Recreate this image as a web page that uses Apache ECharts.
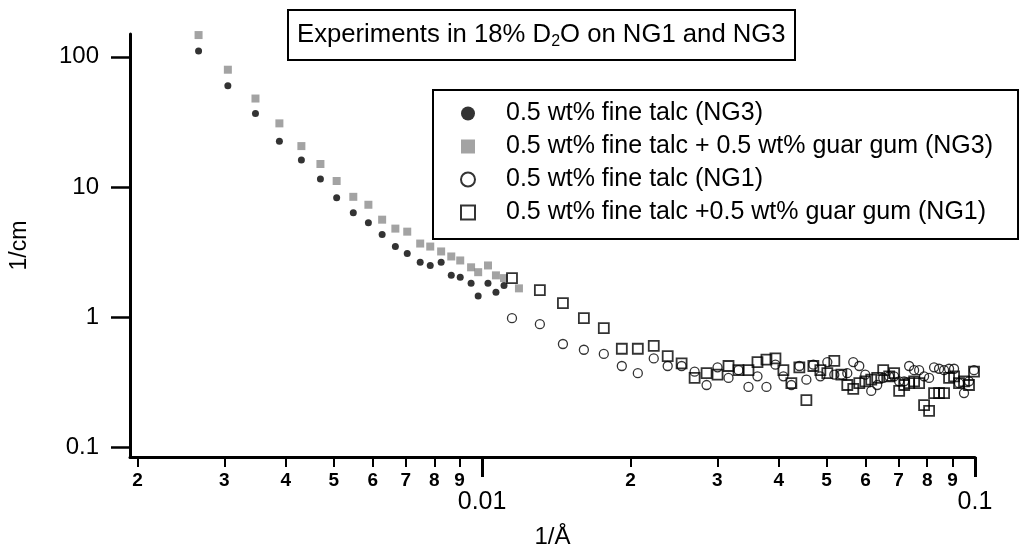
<!DOCTYPE html>
<html>
<head>
<meta charset="UTF-8">
<title>SANS talc / guar gum</title>
<script src="https://cdn.jsdelivr.net/npm/echarts@6/dist/echarts.min.js"></script>
<style>
  html, body { margin: 0; padding: 0; background: #fff; }
  #chart { width: 1020px; height: 554px; }
</style>
</head>
<body>
<div id="chart"></div>
<script>
// q (1/A) and intensity (1/cm)
var qNG3 = [0.00266, 0.00305, 0.00347, 0.00388, 0.00430, 0.00470, 0.00507, 0.00548, 0.00588, 0.00627,
  0.00667, 0.00705, 0.00749, 0.00785, 0.00826, 0.00866, 0.00903, 0.00950, 0.00982, 0.01028,
  0.01067, 0.01108, 0.01188];
var talcNG3 = [111, 60.0, 36.7, 22.4, 16.1, 11.5, 8.24, 6.33, 5.31, 4.30,
  3.48, 3.08, 2.63, 2.49, 2.63, 2.09, 2.02, 1.82, 1.45, 1.82,
  1.55, 1.75];
var guarNG3 = [147, 79.6, 47.8, 30.8, 20.6, 15.0, 11.1, 8.39, 7.29, 5.60,
  4.78, 4.53, 3.67, 3.48, 3.19, 2.92, 2.72, 2.41, 2.21, 2.49,
  2.09, 1.99, 1.66];

var qNG1 = [0.01150, 0.01310, 0.01459, 0.01609, 0.01766, 0.01921, 0.02070, 0.02230, 0.02380, 0.02540,
  0.02699, 0.02854, 0.03004, 0.03162, 0.03313, 0.03471, 0.03620, 0.03775, 0.03937, 0.04086,
  0.04241, 0.04402, 0.04549, 0.04700, 0.04856, 0.05017, 0.05183, 0.05356, 0.05507, 0.05663,
  0.05824, 0.05989, 0.06159, 0.06333, 0.06513, 0.06697, 0.06855, 0.07017, 0.07183, 0.07352,
  0.07525, 0.07703, 0.07884, 0.08070, 0.08260, 0.08455, 0.08655, 0.08859, 0.09068, 0.09281,
  0.09500, 0.09724, 0.09954];
var talcNG1 = [0.98, 0.88, 0.62, 0.56, 0.52, 0.42, 0.37, 0.48, 0.42, 0.42,
  0.38, 0.30, 0.41, 0.34, 0.39, 0.29, 0.35, 0.29, 0.43, 0.35,
  0.30, 0.42, 0.33, 0.43, 0.35, 0.45, 0.36, 0.36, 0.37, 0.45,
  0.42, 0.36, 0.27, 0.30, 0.34, 0.35, 0.35, 0.32, 0.32, 0.42,
  0.39, 0.39, 0.35, 0.34, 0.41, 0.40, 0.39, 0.40, 0.40, 0.31,
  0.26, 0.32, 0.39];
var guarNG1 = [1.99, 1.61, 1.28, 0.98, 0.82, 0.57, 0.57, 0.60, 0.50, 0.44,
  0.34, 0.37, 0.36, 0.42, 0.39, 0.39, 0.45, 0.47, 0.48, 0.39,
  0.31, 0.41, 0.23, 0.42, 0.39, 0.37, 0.46, 0.36, 0.30, 0.28,
  0.31, 0.32, 0.33, 0.34, 0.39, 0.35, 0.37, 0.27, 0.30, 0.31,
  0.32, 0.31, 0.21, 0.19, 0.26, 0.26, 0.26, 0.34, 0.35, 0.31,
  0.32, 0.30, 0.38];

var seriesNames = ['0.5 wt% fine talc (NG3)', '0.5 wt% fine talc + 0.5 wt% guar gum (NG3)',
  '0.5 wt% fine talc (NG1)', '0.5 wt% fine talc +0.5 wt% guar gum (NG1)'];

// axis ticks
var minorTicks = [0.002, 0.003, 0.004, 0.005, 0.006, 0.007, 0.008, 0.009,
  0.02, 0.03, 0.04, 0.05, 0.06, 0.07, 0.08, 0.09];
var minorLabels = ['2', '3', '4', '5', '6', '7', '8', '9', '2', '3', '4', '5', '6', '7', '8', '9'];
var decadeTicks = [0.01, 0.1];
var decadeLabels = ['0.01', '0.1'];
var yTicks = [0.1, 1, 10, 100];
var yLabels = ['0.1', '1', '10', '100'];

var xMin = 0.001931, xMax = 0.1;
var yMin = 0.0839, yMax = 149.8;

var FONT = 'Liberation Sans, Arial, sans-serif';

function lg(v) { return Math.log10(v); }
function pairs(q, v) {
  return v.map(function (y, i) { return [q[i], y]; });
}
// tick axes run in log10 units, labels go back to the plain numbers
function labelFor(ticks, labels) {
  return function (v) {
    for (var i = 0; i < ticks.length; i++) {
      if (Math.abs(lg(ticks[i]) - v) < 1e-6) return labels[i];
    }
    return '';
  };
}

var chart = echarts.init(document.getElementById('chart'));
var option = {
  animation: false,
  backgroundColor: '#fff',
  title: {
    text: 'Experiments in 18% D{sub|2}O on NG1 and NG3',
    left: 288,
    top: 10,
    padding: [10, 10, 10, 9],
    borderColor: '#000',
    borderWidth: 2,
    textStyle: {
      fontFamily: FONT, fontSize: 25.7, fontWeight: 'normal', color: '#000', lineHeight: 30,
      rich: {
        sub: { fontFamily: FONT, fontSize: 16, color: '#000', lineHeight: 16, verticalAlign: 'bottom' }
      }
    }
  },
  legend: {
    orient: 'vertical',
    left: 433,
    top: 90,
    padding: [11, 25, 14, 27],
    itemGap: 8,
    itemWidth: 14,
    itemHeight: 14,
    borderColor: '#000',
    borderWidth: 2,
    textStyle: { fontFamily: FONT, fontSize: 25, lineHeight: 25, color: '#000', padding: [0, 0, 0, 26] },
    data: seriesNames
  },
  grid: { left: 129, right: 45, top: 34, bottom: 94 },
  xAxis: [
    { type: 'log', logBase: 10, min: xMin, max: xMax, show: false },
    {
      type: 'value', position: 'bottom', min: lg(xMin), max: lg(xMax),
      axisLine: { show: true, onZero: false, lineStyle: { color: '#000', width: 3 } },
      axisTick: { show: true, customValues: minorTicks.map(lg), length: 10, lineStyle: { color: '#000', width: 2 } },
      axisLabel: {
        customValues: minorTicks.map(lg), formatter: labelFor(minorTicks, minorLabels),
        margin: 14, fontFamily: FONT, fontSize: 19, fontWeight: 'bold', color: '#000'
      },
      splitLine: { show: false },
      name: '1/Å', nameLocation: 'middle', nameGap: 68,
      nameTextStyle: { fontFamily: FONT, fontSize: 24, color: '#000' }
    },
    {
      type: 'value', position: 'bottom', min: lg(xMin), max: lg(xMax),
      axisLine: { show: false, onZero: false },
      axisTick: { show: true, customValues: decadeTicks.map(lg), length: 20, lineStyle: { color: '#000', width: 3 } },
      axisLabel: {
        customValues: decadeTicks.map(lg), formatter: labelFor(decadeTicks, decadeLabels),
        margin: 33, fontFamily: FONT, fontSize: 25, color: '#000'
      },
      splitLine: { show: false }
    }
  ],
  yAxis: [
    { type: 'log', logBase: 10, min: yMin, max: yMax, show: false },
    {
      type: 'value', position: 'left', min: lg(yMin), max: lg(yMax),
      axisLine: { show: true, onZero: false, lineStyle: { color: '#000', width: 3 } },
      axisTick: { show: true, customValues: yTicks.map(lg), length: 19, lineStyle: { color: '#000', width: 2.5 } },
      axisLabel: {
        customValues: yTicks.map(lg), formatter: labelFor(yTicks, yLabels),
        margin: 31, fontFamily: FONT, fontSize: 24, color: '#000'
      },
      splitLine: { show: false },
      name: '1/cm', nameLocation: 'middle', nameGap: 99,
      nameTextStyle: { fontFamily: FONT, fontSize: 23, color: '#000' }
    }
  ],
  series: [
    {
      name: seriesNames[0], type: 'scatter', xAxisIndex: 0, yAxisIndex: 0,
      symbol: 'circle', symbolSize: 7,
      itemStyle: { color: '#000' },
      data: pairs(qNG3, talcNG3)
    },
    {
      name: seriesNames[1], type: 'scatter', xAxisIndex: 0, yAxisIndex: 0,
      symbol: 'rect', symbolSize: 8,
      itemStyle: { color: '#8c8c8c' },
      data: pairs(qNG3, guarNG3)
    },
    {
      name: seriesNames[2], type: 'scatter', xAxisIndex: 0, yAxisIndex: 0,
      symbol: 'circle', symbolSize: 9,
      itemStyle: { color: 'rgba(255,255,255,0)', borderColor: '#000', borderWidth: 1.3 },
      data: pairs(qNG1, talcNG1)
    },
    {
      name: seriesNames[3], type: 'scatter', xAxisIndex: 0, yAxisIndex: 0,
      symbol: 'rect', symbolSize: 10,
      itemStyle: { color: 'rgba(255,255,255,0)', borderColor: '#000', borderWidth: 1.8 },
      data: pairs(qNG1, guarNG1)
    }
  ]
};
chart.setOption(option);
</script>
</body>
</html>
